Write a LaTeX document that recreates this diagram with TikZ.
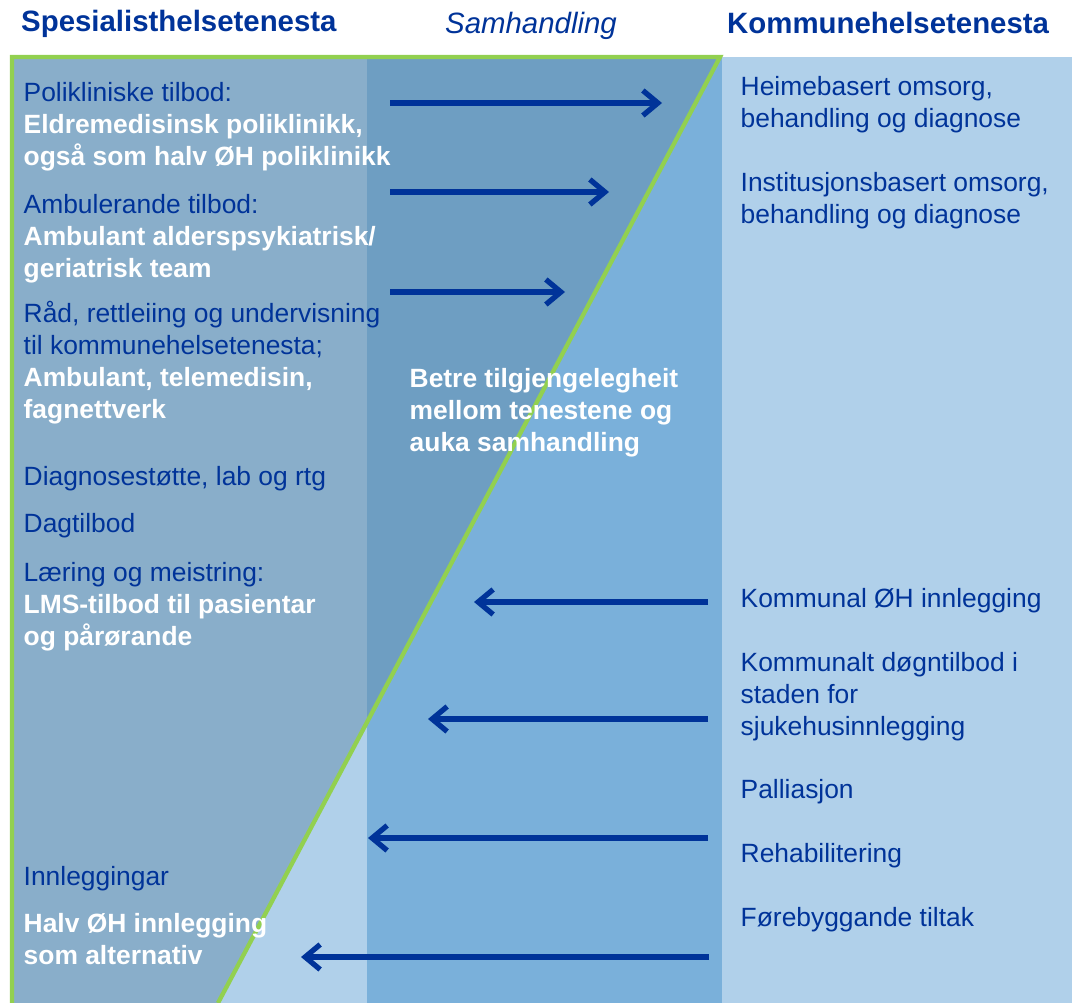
\documentclass[tikz,border=0pt]{standalone}
\usepackage{fontspec}
\setmainfont{Liberation Sans}
\usetikzlibrary{arrows.meta}
\definecolor{morkblaa}{RGB}{0,51,153}
\definecolor{lysblaa}{RGB}{176,208,234}
\definecolor{midblaa}{RGB}{122,176,218}
\definecolor{skugge}{RGB}{100,142,172}
\definecolor{kantgroen}{RGB}{146,208,80}
\newcommand{\kvit}[1]{\textcolor{white}{\bfseries #1}}
\tikzset{
	tekst/.style={anchor=north west, inner sep=0pt, align=left, text=morkblaa, font=\fontsize{26.4}{32}\selectfont},
	overskrift/.style={anchor=base west, inner sep=0pt, text=morkblaa, font=\fontsize{29.4}{35}\selectfont\bfseries},
	pil/.style={morkblaa, line width=5.3pt, -{Straight Barb[length=15pt,width=25pt]}}
}

\begin{document}
\begin{tikzpicture}[x=1pt,y=-1pt]
	\useasboundingbox (0,0) rectangle (1072,1003);

	\fill[lysblaa] (12,57) rectangle (1072,1003);
	\fill[midblaa] (367,57) rectangle (722,1003);
	\fill[skugge, fill opacity=0.5] (12,57) -- (720,57) -- (218,1003) -- (12,1003) -- cycle;
	\draw[kantgroen, line width=4.3pt] (12,1003) -- (12,57) -- (720,57) -- (218,1003);

	\node[overskrift] (spes) at (21,32) {Spesialisthelsetenesta};
	\node[overskrift, anchor=base, font=\fontsize{29.4}{35}\selectfont\itshape] (samh) at (531,34) {Samhandling};
	\node[overskrift] (komm) at (727,34) {Kommunehelsetenesta};

	\node[tekst] (pol) at (23.5,82) {Polikliniske tilbod:\\ \kvit{Eldremedisinsk poliklinikk,}\\ \kvit{også som halv ØH poliklinikk}};
	\node[tekst] (amb) at (23.5,194) {Ambulerande tilbod:\\ \kvit{Ambulant alderspsykiatrisk/}\\ \kvit{geriatrisk team}};
	\node[tekst] (rad) at (23.5,301) {Råd, rettleiing og undervisning\\ til kommunehelsetenesta;\\ \kvit{Ambulant, telemedisin,}\\ \kvit{fagnettverk}};
	\node[tekst] (diag) at (23.5,466) {Diagnosestøtte, lab og rtg};
	\node[tekst] (dag) at (23.5,513) {Dagtilbod};
	\node[tekst] (lar) at (23.5,562) {Læring og meistring:\\ \kvit{LMS-tilbod til pasientar}\\ \kvit{og pårørande}};
	\node[tekst] (inn) at (23.5,866) {Innleggingar};
	\node[tekst] (halv) at (23.5,913) {\kvit{Halv ØH innlegging}\\ \kvit{som alternativ}};

	\node[tekst] (betre) at (409.5,368) {\kvit{Betre tilgjengelegheit}\\ \kvit{mellom tenestene og}\\ \kvit{auka samhandling}};

	\node[tekst] (heim) at (740.5,76) {Heimebasert omsorg,\\ behandling og diagnose};
	\node[tekst] (inst) at (740.5,172) {Institusjonsbasert omsorg,\\ behandling og diagnose};
	\node[tekst] (kohi) at (740.5,588) {Kommunal ØH innlegging};
	\node[tekst] (kdt) at (740.5,652) {Kommunalt døgntilbod i\\ staden for\\ sjukehusinnlegging};
	\node[tekst] (pall) at (740.5,779) {Palliasjon};
	\node[tekst] (reh) at (740.5,843) {Rehabilitering};
	\node[tekst] (fore) at (740.5,907) {Førebyggande tiltak};

	\coordinate (ut1a) at (390,103);
	\coordinate (ut1b) at (662,103);
	\coordinate (ut2a) at (390,192);
	\coordinate (ut2b) at (609,192);
	\coordinate (ut3a) at (390,292);
	\coordinate (ut3b) at (565,292);
	\coordinate (inn1a) at (708,602);
	\coordinate (inn1b) at (474,602);
	\coordinate (inn2a) at (708,719);
	\coordinate (inn2b) at (428,719);
	\coordinate (inn3a) at (708,838);
	\coordinate (inn3b) at (368,838);
	\coordinate (inn4a) at (709,957);
	\coordinate (inn4b) at (301,957);

	\draw[pil] (ut1a) -- (ut1b);
	\draw[pil] (ut2a) -- (ut2b);
	\draw[pil] (ut3a) -- (ut3b);
	\draw[pil] (inn1a) -- (inn1b);
	\draw[pil] (inn2a) -- (inn2b);
	\draw[pil] (inn3a) -- (inn3b);
	\draw[pil] (inn4a) -- (inn4b);
\end{tikzpicture}
\end{document}
